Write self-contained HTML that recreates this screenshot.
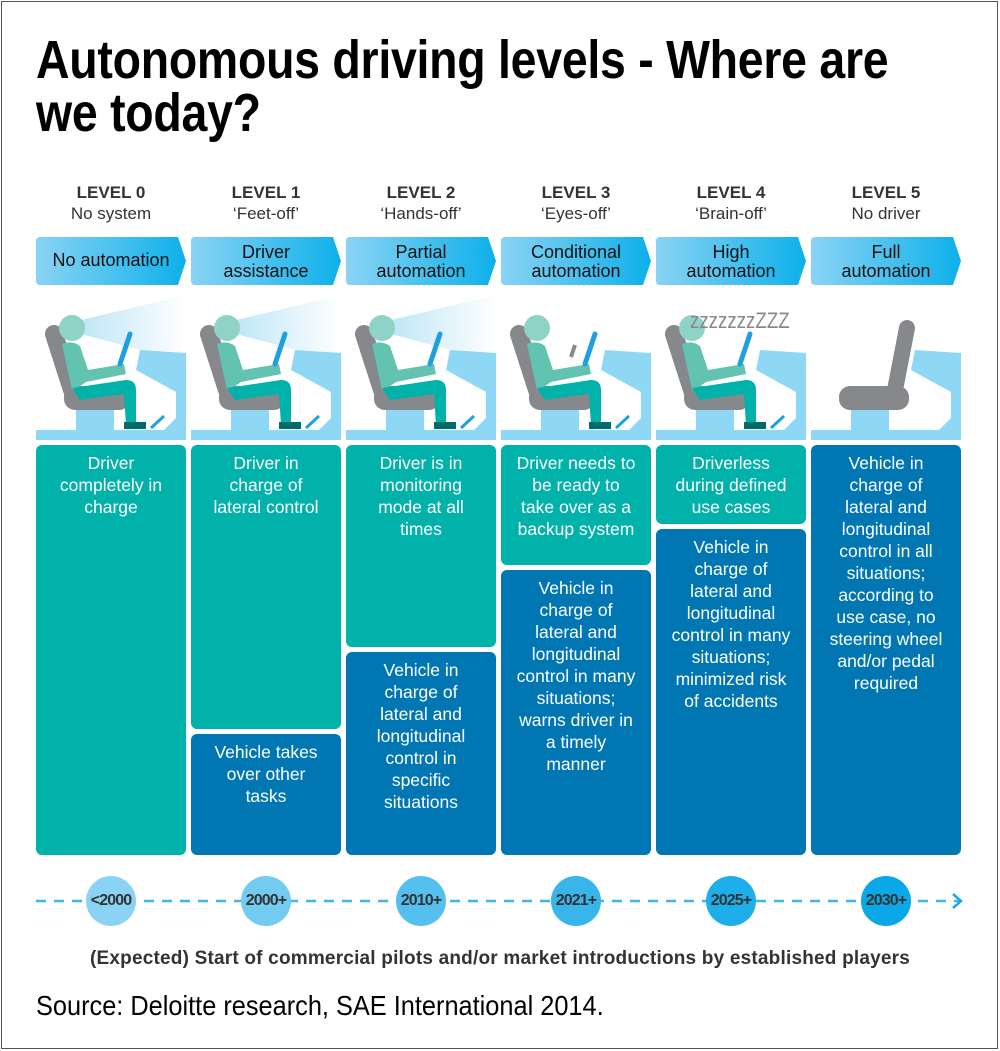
<!DOCTYPE html>
<html><head><meta charset="utf-8"><style>
*{margin:0;padding:0;box-sizing:border-box}
body{width:1000px;height:1051px;background:#fff;position:relative;overflow:hidden;font-family:"Liberation Sans",sans-serif}
#frame{position:absolute;left:1px;top:1px;width:997px;height:1048px;border:1px solid #555}
h1{position:absolute;left:36px;top:34px;font-weight:bold;font-size:54px;line-height:53px;color:#000;white-space:nowrap;transform:scaleX(0.86);transform-origin:0 0;letter-spacing:-0.3px}
.lv{position:absolute;top:182px;width:150px;text-align:center;color:#333;font-size:17px;line-height:21px}
.lv b{font-size:17px;color:#333}
.box{position:absolute;width:150px;border-radius:6px;color:#fff;text-align:center;font-size:17.5px;line-height:22px;padding-top:7px}
.t{background:#00b2a9}.d{background:#0077b3}
.yr{position:absolute;top:876px;width:50px;height:50px;border-radius:25px;text-align:center;line-height:50px;font-weight:bold;font-size:16px;color:#333;letter-spacing:-0.9px}
.foot{position:absolute;left:0;width:1000px;top:948px;text-align:center;font-weight:bold;font-size:19px;letter-spacing:0.2px;color:#333;white-space:nowrap}
.src{position:absolute;left:36px;top:990px;font-size:28px;color:#000;white-space:nowrap;transform:scaleX(0.905);transform-origin:0 0}
</style></head><body>
<div id="frame"></div>
<h1>Autonomous driving levels - Where are<br>we today?</h1>

<div class="lv" style="left:36px"><b>LEVEL 0</b><br>No system</div>
<div class="lv" style="left:191px"><b>LEVEL 1</b><br>‘Feet-off’</div>
<div class="lv" style="left:346px"><b>LEVEL 2</b><br>‘Hands-off’</div>
<div class="lv" style="left:501px"><b>LEVEL 3</b><br>‘Eyes-off’</div>
<div class="lv" style="left:656px"><b>LEVEL 4</b><br>‘Brain-off’</div>
<div class="lv" style="left:811px"><b>LEVEL 5</b><br>No driver</div>

<svg width="1000" height="1051" style="position:absolute;left:0;top:0">
<defs>
<linearGradient id="hg" x1="0" x2="1"><stop offset="0" stop-color="#8ad3f4"/><stop offset="1" stop-color="#0db0ea"/></linearGradient>
<linearGradient id="bm" x1="0" x2="1"><stop offset="0" stop-color="#bfe6f7"/><stop offset="1" stop-color="#ffffff"/></linearGradient>
<g id="base">
<rect x="0" y="140" width="150" height="10" fill="#8fd8f5"/>
<polygon points="104,60 150,63 150,140 128,140 140,128 140,102 100,80" fill="#8fd8f5"/>
<rect x="40" y="108" width="38" height="32" fill="#8fd8f5"/>
</g>
<g id="seat">
<path d="M18,44 L36,100" stroke="#86888c" stroke-width="18" stroke-linecap="round"/>
<rect x="28" y="96" width="66" height="24" rx="11" fill="#86888c"/>
</g>
<g id="pers">
<circle cx="36" cy="38" r="13" fill="#8fd3c6"/>
<path d="M26,54 Q36,50 44,56 L52,80 L88,74 L90,84 L50,92 Q42,98 36,100 Z" fill="#62c3b0"/>
<path d="M36,98 L90,90 Q100,90 100,100 L100,135 L90,135 L88,104 L44,110 Z" fill="#00b2a9"/>
<rect x="88" y="132" width="22" height="7" fill="#006b6b"/>
<line x1="94" y1="44" x2="84" y2="74" stroke="#1ea0e0" stroke-width="5" stroke-linecap="round"/>
<line x1="115" y1="138" x2="128" y2="126" stroke="#1ea0e0" stroke-width="3"/>
</g>
<g id="beam"><polygon points="45,30 150,5 150,72 45,44" fill="url(#bm)"/></g>
</defs>
<g fill="url(#hg)">
<path d="M40,237 H178 L186,261 L178,285 H40 Q36,285 36,281 V241 Q36,237 40,237Z"/>
<path d="M195,237 H333 L341,261 L333,285 H195 Q191,285 191,281 V241 Q191,237 195,237Z"/>
<path d="M350,237 H488 L496,261 L488,285 H350 Q346,285 346,281 V241 Q346,237 350,237Z"/>
<path d="M505,237 H643 L651,261 L643,285 H505 Q501,285 501,281 V241 Q501,237 505,237Z"/>
<path d="M660,237 H798 L806,261 L798,285 H660 Q656,285 656,281 V241 Q656,237 660,237Z"/>
<path d="M815,237 H953 L961,261 L953,285 H815 Q811,285 811,281 V241 Q811,237 815,237Z"/>
</g>
<g font-family="Liberation Sans,sans-serif" font-size="18" fill="#111" text-anchor="middle">
<text x="111" y="266">No automation</text>
<text x="266" y="258">Driver</text><text x="266" y="277">assistance</text>
<text x="421" y="258">Partial</text><text x="421" y="277">automation</text>
<text x="576" y="258">Conditional</text><text x="576" y="277">automation</text>
<text x="731" y="258">High</text><text x="731" y="277">automation</text>
<text x="886" y="258">Full</text><text x="886" y="277">automation</text>
</g>
<g transform="translate(36,290)"><use href="#beam"/><use href="#base"/><use href="#seat"/><use href="#pers"/></g>
<g transform="translate(191,290)"><use href="#beam"/><use href="#base"/><use href="#seat"/><use href="#pers"/></g>
<g transform="translate(346,290)"><use href="#beam"/><use href="#base"/><use href="#seat"/><use href="#pers"/></g>
<g transform="translate(501,290)"><use href="#base"/><use href="#seat"/><use href="#pers"/><line x1="74" y1="55" x2="70" y2="67" stroke="#86888c" stroke-width="4"/></g>
<g transform="translate(656,290)"><use href="#base"/><use href="#seat"/><use href="#pers"/><text x="40" y="38" font-family="Liberation Sans,sans-serif" font-size="22" fill="#86888c" transform="scale(0.85,1)">zzzzzzzZZZ</text></g>
<g transform="translate(811,290)"><use href="#base"/><rect x="28" y="96" width="70" height="24" rx="11" fill="#86888c"/><path d="M96,38 L84,100" stroke="#86888c" stroke-width="16" stroke-linecap="round"/></g>
<line x1="36" y1="901" x2="960" y2="901" stroke="#3db8ea" stroke-width="2.5" stroke-dasharray="10,8"/>
<polyline points="953,894 961,901 953,908" fill="none" stroke="#1aa9e6" stroke-width="2.5"/>
</svg>

<div class="box t" style="left:36px;top:445px;height:410px">Driver<br>completely in<br>charge</div>
<div class="box t" style="left:191px;top:445px;height:284px">Driver in<br>charge of<br>lateral control</div>
<div class="box d" style="left:191px;top:734px;height:121px">Vehicle takes<br>over other<br>tasks</div>
<div class="box t" style="left:346px;top:445px;height:202px">Driver is in<br>monitoring<br>mode at all<br>times</div>
<div class="box d" style="left:346px;top:652px;height:203px">Vehicle in<br>charge of<br>lateral and<br>longitudinal<br>control in<br>specific<br>situations</div>
<div class="box t" style="left:501px;top:445px;height:120px">Driver needs to<br>be ready to<br>take over as a<br>backup system</div>
<div class="box d" style="left:501px;top:570px;height:285px">Vehicle in<br>charge of<br>lateral and<br>longitudinal<br>control in many<br>situations;<br>warns driver in<br>a timely<br>manner</div>
<div class="box t" style="left:656px;top:445px;height:79px">Driverless<br>during defined<br>use cases</div>
<div class="box d" style="left:656px;top:529px;height:326px">Vehicle in<br>charge of<br>lateral and<br>longitudinal<br>control in many<br>situations;<br>minimized risk<br>of accidents</div>
<div class="box d" style="left:811px;top:445px;height:410px">Vehicle in<br>charge of<br>lateral and<br>longitudinal<br>control in all<br>situations;<br>according to<br>use case, no<br>steering wheel<br>and/or pedal<br>required</div>

<div class="yr" style="left:86px;background:#8ad3f4">&lt;2000</div>
<div class="yr" style="left:241px;background:#74cbf2">2000+</div>
<div class="yr" style="left:396px;background:#55c0ef">2010+</div>
<div class="yr" style="left:551px;background:#38b6ec">2021+</div>
<div class="yr" style="left:706px;background:#1eaee9">2025+</div>
<div class="yr" style="left:861px;background:#0aa8e6">2030+</div>

<div class="foot">(Expected) Start of commercial pilots and/or market introductions by established players</div>
<div class="src">Source: Deloitte research, SAE International 2014.</div>
</body></html>
